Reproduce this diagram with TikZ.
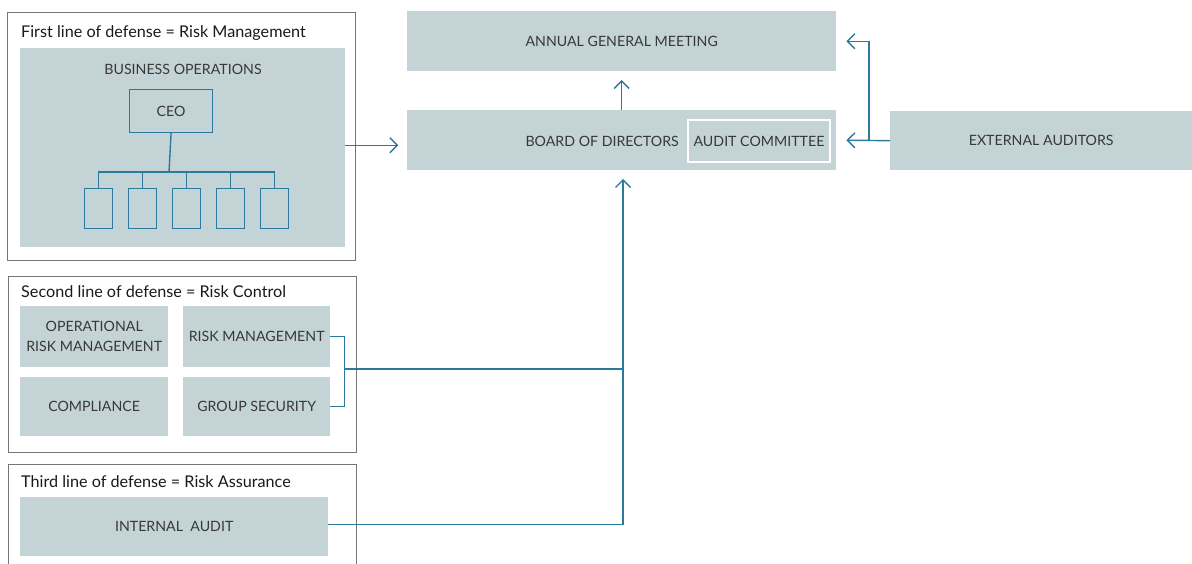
\documentclass[tikz,border=0pt]{standalone}
\usepackage{fontspec}
\setmainfont{Lato}
\usetikzlibrary{arrows.meta}
\definecolor{cell}{HTML}{C4D4D6}
\definecolor{lnk}{HTML}{2B7A9E}
\definecolor{frm}{HTML}{767676}
\definecolor{txt}{HTML}{383838}
\begin{document}
\begin{tikzpicture}[x=1pt,y=-1pt,
  cellbox/.style={fill=cell, draw=none, inner sep=0pt, anchor=north west, text=txt, align=center, font=\fontsize{14.2}{20}\selectfont},
  frame/.style={draw=frm, line width=1pt, inner sep=0pt, anchor=north west},
  ttl/.style={anchor=west, inner sep=0pt, text=black!90, font=\fontsize{16.2}{18}\selectfont},
  lbl/.style={inner sep=0pt, text=txt, font=\fontsize{14.2}{16}\selectfont},
  orgbox/.style={draw=lnk, line width=1.2pt, inner sep=0pt, anchor=north west},
  link/.style={draw=lnk, line width=1.4pt},
  arr/.style={link, -{Straight Barb[length=7.5pt,width=15pt,line width=1.4pt]}}
]
\useasboundingbox (0,0) rectangle (1192,563);
\clip (0,0) rectangle (1192,563);
% frames
\node[frame, minimum width=348, minimum height=248] (f1) at (7,12) {};
\node[frame, minimum width=348, minimum height=176] (f2) at (8,276) {};
\node[frame, minimum width=348, minimum height=130] (f3) at (8,464) {};
\node[ttl] (t1) at (21,33) {First line of defense = Risk Management};
\node[ttl] (t2) at (21,292) {Second line of defense = Risk Control};
\node[ttl] (t3) at (21,482) {Third line of defense = Risk Assurance};
% first line
\node[cellbox, minimum width=325, minimum height=199] (bo) at (20,48) {};
\node[lbl] (bol) at (183,69) {BUSINESS OPERATIONS};
\node[orgbox, minimum width=83, minimum height=43, font=\fontsize{14.2}{16}\selectfont, text=txt] (ceo) at (129,89) {CEO};
\node[orgbox, minimum width=28, minimum height=40] (s1) at (84,188) {};
\node[orgbox, minimum width=28, minimum height=40] (s2) at (128,188) {};
\node[orgbox, minimum width=28, minimum height=40] (s3) at (172,188) {};
\node[orgbox, minimum width=28, minimum height=40] (s4) at (216,188) {};
\node[orgbox, minimum width=28, minimum height=40] (s5) at (260,188) {};
\coordinate (bus) at (169,172);
\draw[link] (ceo.south) -- (bus);
\draw[link] (s1.north) -- (s1.north |- bus) -- (s5.north |- bus) -- (s5.north);
\foreach \s in {s2,s3,s4} \draw[link] (\s.north) -- (\s.north |- bus);
% second line
\node[cellbox, minimum width=148, minimum height=61] (orm) at (20,306) {OPERATIONAL\\RISK MANAGEMENT};
\node[cellbox, minimum width=147, minimum height=61] (rm) at (183,306) {RISK MANAGEMENT};
\node[cellbox, minimum width=148, minimum height=59] (comp) at (20,377) {COMPLIANCE};
\node[cellbox, minimum width=147, minimum height=59] (gs) at (183,377) {GROUP SECURITY};
% third line
\node[cellbox, minimum width=308, minimum height=59] (ia) at (20,497) {INTERNAL\ \ AUDIT};
% governance
\node[cellbox, minimum width=429, minimum height=60] (agm) at (407,11) {ANNUAL GENERAL MEETING};
\node[cellbox, minimum width=429, minimum height=60] (bod) at (407,110) {};
\node[lbl, anchor=east] (bodl) at (679,141) {BOARD OF DIRECTORS};
\node[cellbox, draw=white, line width=2pt, minimum width=142, minimum height=42] (ac) at (687,119) {AUDIT COMMITTEE};
\node[cellbox, minimum width=302, minimum height=59] (ea) at (890,111) {EXTERNAL AUDITORS};
% connectors
\draw[arr] ([yshift=2.5pt]bo.east) -- ++(53,0);
\draw[arr] (bod.north) -- ++(0,-30);
\draw[arr] (ea.west) -- ([xshift=10pt]bod.east);
\draw[arr] (ea.west) -- ++(-21,0) |- ([xshift=10pt]agm.east);
\coordinate (tip) at (623,179);
\coordinate (j) at (344,369);
\draw[link] (rm.east) -- ++(14,0) |- (gs.east);
\draw[link] (j) -- (j -| tip);
\draw[arr] ([yshift=2.5pt]ia.east) -| (tip);
\end{tikzpicture}
\end{document}
